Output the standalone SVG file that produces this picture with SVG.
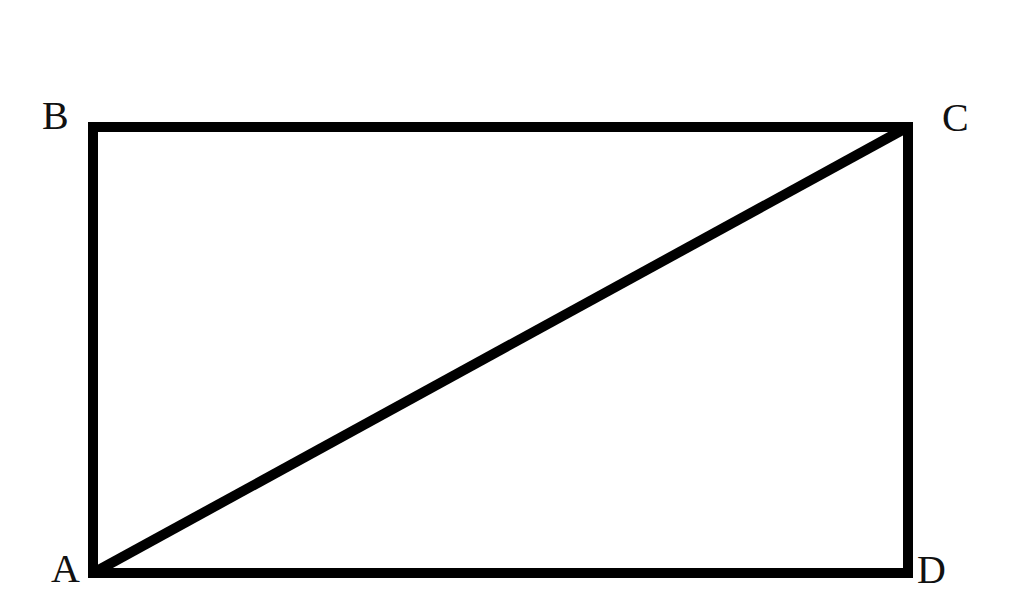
<svg xmlns="http://www.w3.org/2000/svg" width="1024" height="614" viewBox="0 0 1024 614">
<style>
.shape{fill:none;stroke:#000;stroke-width:10;stroke-linejoin:miter;stroke-linecap:butt}
.lbl{font-family:"Liberation Serif","Times New Roman",serif;font-size:40px;fill:#111}
</style>
<rect width="1024" height="614" fill="#fff"/>
<g id="rectangle">
<rect class="shape" x="93" y="127" width="815" height="446"/>
</g>
<g id="connectors">
<line class="shape" x1="95" y1="572" x2="906" y2="128"/>
</g>
<g id="labels">
<text id="label-B" class="lbl" x="42" y="129">B</text>
<text id="label-C" class="lbl" x="942" y="131">C</text>
<text id="label-A" class="lbl" x="51" y="582">A</text>
<text id="label-D" class="lbl" x="917" y="583">D</text>
</g>
</svg>
